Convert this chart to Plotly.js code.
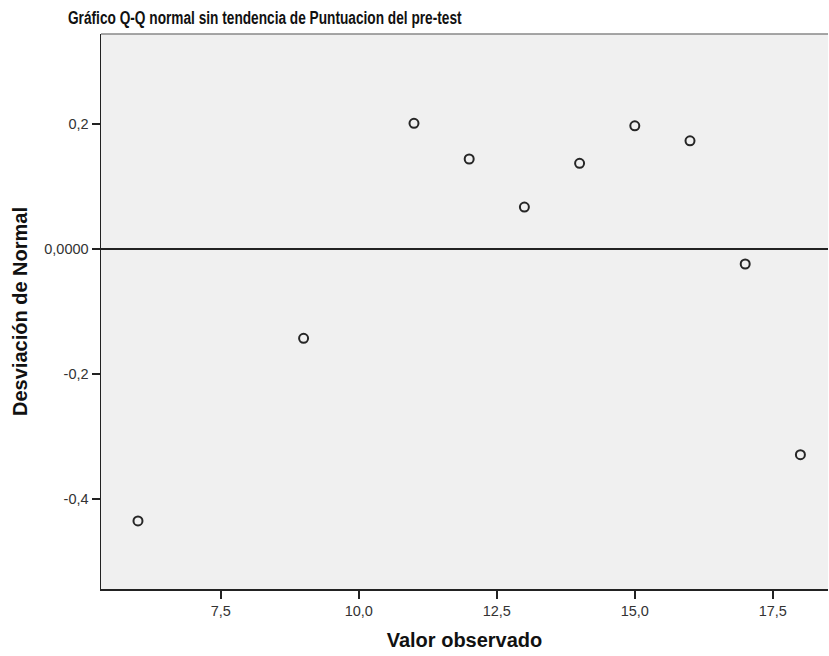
<!DOCTYPE html>
<html>
<head>
<meta charset="utf-8">
<script src="https://cdn.plot.ly/plotly-3.0.1.min.js"></script>
<style>html,body{margin:0;padding:0;background:#fff;}#chart{width:829px;height:656px;}</style>
</head>
<body>
<div id="chart"></div>
<script>
var observedValues = [6, 9, 11, 12, 13, 14, 15, 16, 17, 18];
var deviationValues = [-0.435, -0.143, 0.201, 0.144, 0.067, 0.137, 0.197, 0.173, -0.024, -0.329];
var xTickValues = [7.5, 10.0, 12.5, 15.0, 17.5];
var xTickLabels = ["7,5", "10,0", "12,5", "15,0", "17,5"];
var yTickValues = [0.2, 0.0, -0.2, -0.4];
var yTickLabels = ["0,2", "0,0000", "-0,2", "-0,4"];

var trace = {
  x: observedValues,
  y: deviationValues,
  type: 'scatter',
  mode: 'markers',
  marker: {symbol: 'circle-open', size: 9, color: '#262626', line: {width: 2, color: '#262626'}},
  hoverinfo: 'x+y'
};

var layout = {
  width: 829, height: 656,
  margin: {l: 101, r: 1, t: 34, b: 67},
  paper_bgcolor: '#ffffff',
  plot_bgcolor: '#f0f0f0',
  showlegend: false,
  font: {family: 'Liberation Sans, Arial, sans-serif', color: '#333', size: 14},
  title: {
    text: 'Gráfico Q-Q normal sin tendencia de Puntuacion del pre-test',
    font: {family: 'Liberation Sans, Arial, sans-serif', size: 19, color: '#111', weight: 'bold'},
    xref: 'container', yref: 'container',
    x: 68/829, xanchor: 'left',
    y: 1 - 17/656, yanchor: 'middle'
  },
  xaxis: {
    range: [5.33, 18.5],
    tickvals: xTickValues, ticktext: xTickLabels,
    ticks: 'outside', ticklen: 8, tickwidth: 1.5, tickcolor: '#222',
    showgrid: false, zeroline: false,
    showline: true, linecolor: '#222', linewidth: 1.5,
    tickfont: {size: 14.5, color: '#333'},
    title: {text: 'Valor observado', font: {size: 20, color: '#111', weight: 'bold'}, standoff: 15}
  },
  yaxis: {
    range: [-0.544, 0.344],
    tickvals: yTickValues, ticktext: yTickLabels,
    ticks: 'outside', ticklen: 8, tickwidth: 1.5, tickcolor: '#222',
    showgrid: false,
    zeroline: true, zerolinecolor: '#222', zerolinewidth: 1.5,
    showline: true, linecolor: '#222', linewidth: 1.5,
    tickfont: {size: 14.5, color: '#333'},
    title: {text: 'Desviación de Normal', font: {size: 20, color: '#111', weight: 'bold'}, standoff: 11}
  },
  shapes: [
    {type: 'line', xref: 'paper', yref: 'paper', x0: 0, x1: 1, y0: 1, y1: 1, line: {color: '#888', width: 1.5}}
  ]
};

Plotly.newPlot('chart', [trace], layout, {displayModeBar: false, staticPlot: true}).then(function () {
  var t = document.querySelector('.gtitle');
  if (t) {
    var sx = 0.72, x0 = 68;
    t.setAttribute('transform', 'translate(' + x0 + ',0) scale(' + sx + ',1) translate(' + (-x0) + ',0)');
  }
});
</script>
</body>
</html>
